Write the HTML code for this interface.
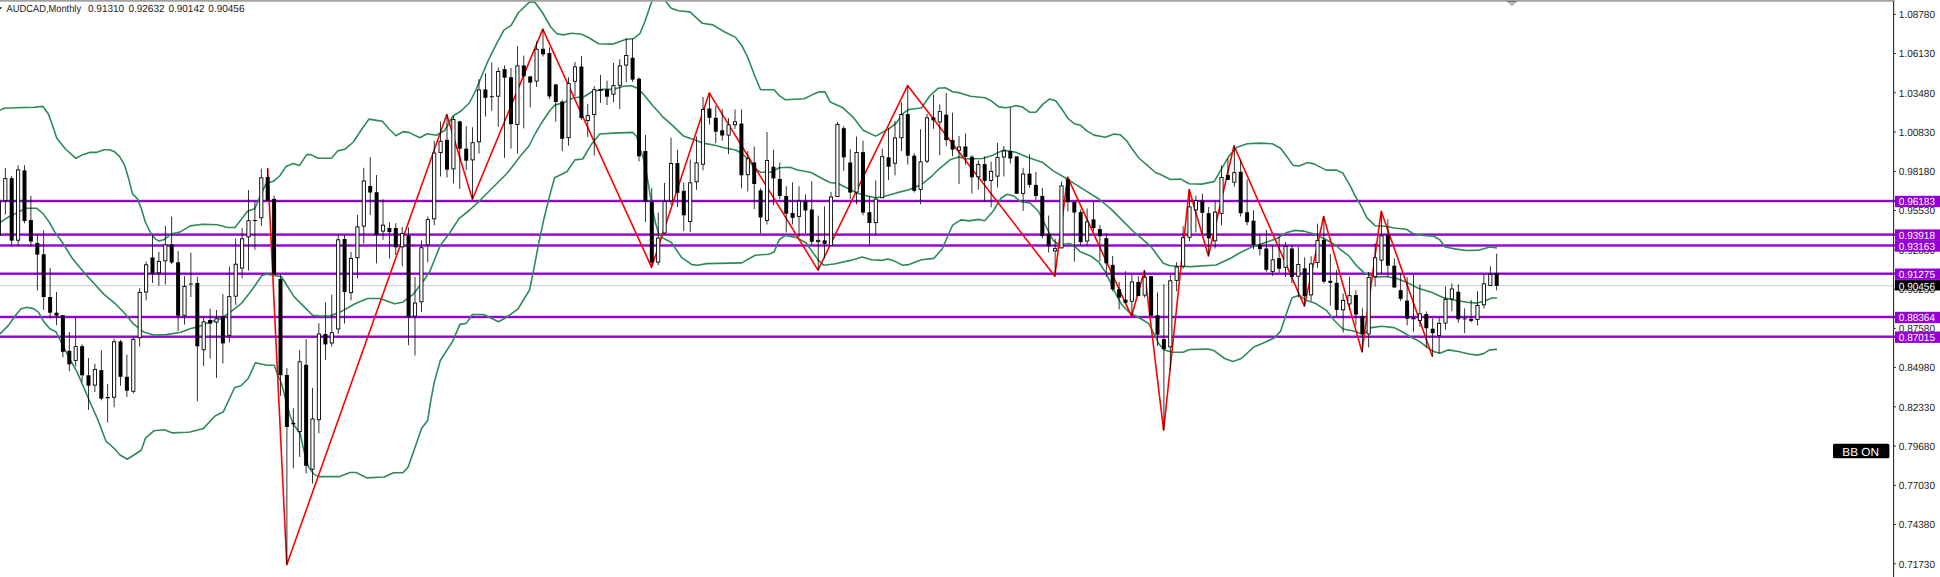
<!DOCTYPE html>
<html><head><meta charset="utf-8"><title>AUDCAD,Monthly</title>
<style>
html,body{margin:0;padding:0;background:#fff;overflow:hidden}
svg{display:block}
text{font-family:"Liberation Sans",sans-serif;text-rendering:geometricPrecision}
</style></head><body>
<svg width="1940" height="577" viewBox="0 0 1940 577">
<rect x="0" y="0" width="1940" height="577" fill="#ffffff"/>

<rect x="0" y="285.25" width="1894" height="0.9" fill="#c8c8c8"/>
<rect x="0" y="199.8" width="1895" height="2.4" fill="#9400d3"/>
<rect x="0" y="233.4" width="1895" height="2.4" fill="#9400d3"/>
<rect x="0" y="244.3" width="1895" height="2.4" fill="#9400d3"/>
<rect x="0" y="272.5" width="1895" height="2.4" fill="#9400d3"/>
<rect x="0" y="315.8" width="1895" height="2.4" fill="#9400d3"/>
<rect x="0" y="335.5" width="1895" height="2.4" fill="#9400d3"/>
<polyline points="0.0,110.3 3.9,108.2 15.6,107.7 33.8,107.2 42.9,106.4 48.1,113.4 52.0,123.8 56.7,138.1 65.0,148.5 75.9,158.3 83.2,154.4 89.7,152.4 96.2,152.4 104.0,149.8 109.1,149.8 114.3,151.6 119.5,156.3 124.7,165.4 128.6,178.4 132.5,193.9 137.7,199.1 141.6,209.5 145.5,222.5 150.7,232.9 155.9,239.4 159.1,241.0 164.3,239.4 171.6,233.8 179.9,232.1 190.3,225.9 202.8,224.2 217.3,224.8 227.7,227.5 235.0,227.5 240.2,220.7 247.5,211.3 254.7,208.8 259.9,196.8 266.2,183.3 273.5,181.2 279.7,176.0 285.9,166.6 293.2,163.5 299.4,165.6 306.7,154.6 310.9,154.6 318.2,158.3 331.4,158.2 337.7,150.9 344.9,149.3 353.3,142.0 361.6,129.5 368.9,119.1 375.1,120.1 382.4,121.2 388.6,128.5 395.9,135.7 403.2,131.6 409.4,132.6 419.8,137.8 427.1,133.7 436.4,135.3 444.7,130.5 453.0,116.0 461.4,110.8 469.7,102.5 475.9,90.0 480.0,80.0 488.3,60.3 496.6,43.7 503.9,30.1 511.2,25.4 518.5,12.5 529.9,1.7 535.1,2.5 542.4,12.5 550.7,27.0 556.9,33.7 563.2,34.9 571.5,33.3 581.9,34.3 590.2,38.5 598.5,43.7 613.1,44.1 625.5,39.5 633.8,38.5 640.1,33.3 645.2,20.8 649.4,8.3 652.0,1.0 654.0,-5.0 664.0,-5.0 666.0,1.7 671.2,8.3 678.5,10.8 689.9,11.9 702.4,23.3 712.8,24.9 725.2,32.2 735.6,37.4 741.9,45.7 748.1,58.2 754.3,74.8 760.6,89.8 774.1,89.8 779.3,95.6 785.5,99.8 804.2,98.8 812.6,94.6 818.8,91.9 825.0,91.9 830.2,101.9 842.4,107.4 852.8,116.8 863.2,130.3 875.6,136.1 888.1,129.3 896.4,123.0 902.7,113.7 908.9,109.5 921.4,108.0 929.7,96.0 938.0,88.3 945.3,87.7 952.6,91.8 960.0,92.9 970.4,96.2 985.0,97.7 991.2,100.8 998.5,106.6 1004.7,107.7 1010.9,107.0 1016.1,105.6 1022.4,107.0 1029.6,112.2 1035.9,112.2 1043.2,103.9 1049.4,99.1 1055.6,100.8 1061.9,109.1 1068.1,118.5 1074.3,123.7 1080.6,125.3 1086.8,130.9 1094.1,135.1 1105.5,137.2 1113.8,134.1 1120.1,134.7 1126.3,140.3 1132.6,149.6 1138.8,158.0 1147.1,165.2 1155.4,172.5 1160.0,174.3 1170.4,179.5 1180.8,179.1 1189.1,183.7 1201.6,184.1 1214.1,181.6 1220.3,171.2 1228.6,156.6 1236.9,147.3 1247.3,143.7 1259.8,143.1 1272.3,143.7 1280.6,148.3 1286.8,156.6 1293.1,165.4 1299.3,166.0 1307.6,162.5 1313.8,163.9 1326.3,170.1 1336.7,170.1 1343.0,173.3 1351.3,187.8 1354.6,195.0 1360.8,205.4 1367.0,217.9 1375.3,225.8 1384.7,226.2 1396.1,228.3 1406.5,229.3 1412.8,233.5 1423.2,235.5 1433.6,236.2 1439.8,239.7 1445.0,247.0 1456.4,249.1 1466.8,250.5 1479.3,250.1 1489.7,247.0 1497.0,248.0" fill="none" stroke="#2e8b57" stroke-width="1.6" stroke-linejoin="round"/>
<polyline points="0.0,222.5 7.8,217.3 18.2,212.1 26.0,208.2 36.4,208.2 42.9,213.4 49.4,222.5 54.6,231.6 62.4,242.5 72.8,259.1 83.2,271.6 93.6,283.0 104.0,294.4 114.3,302.8 124.7,313.2 133.1,323.6 143.5,331.9 153.8,335.0 166.3,334.6 180.9,332.3 190.0,328.8 198.3,326.7 208.7,322.6 221.2,318.4 231.6,311.1 242.0,302.8 252.4,289.3 261.7,275.8 266.9,274.1 281.5,276.8 294.0,296.6 303.3,305.9 312.7,315.3 318.9,315.9 330.0,316.1 342.5,310.9 355.0,303.7 367.4,298.5 379.9,298.5 394.4,303.7 402.8,302.2 413.2,294.3 423.6,280.8 429.8,271.5 440.2,245.6 449.5,233.2 458.9,218.6 469.7,210.0 478.0,202.3 486.3,194.0 498.8,181.5 507.1,173.2 515.4,162.8 520.0,156.5 528.9,146.0 535.9,132.5 541.4,123.2 549.7,110.7 554.8,105.0 563.2,102.9 573.6,97.7 584.0,96.7 592.3,91.5 602.7,89.4 613.1,89.4 623.5,86.3 631.8,85.7 638.0,88.4 644.1,95.0 652.4,105.3 662.8,116.8 673.2,126.1 683.6,136.1 694.0,139.7 704.3,143.4 714.7,145.3 725.1,148.0 735.5,150.0 741.8,153.2 748.0,159.4 754.2,167.7 760.5,172.3 770.9,172.3 779.2,167.7 790.0,167.3 797.7,170.0 811.2,172.5 821.6,178.3 829.9,182.5 838.2,183.5 846.5,187.7 856.9,192.9 867.3,196.0 875.6,197.7 884.0,196.6 896.4,192.9 908.9,189.8 921.4,184.6 931.8,176.2 938.0,169.8 950.5,159.4 958.8,156.9 967.1,159.0 982.5,158.5 992.9,155.3 1003.3,150.1 1015.7,152.2 1028.2,157.4 1042.8,162.6 1053.2,170.9 1067.7,179.3 1082.3,188.6 1098.9,199.0 1111.4,209.4 1123.8,221.9 1134.2,232.3 1140.5,237.3 1150.9,246.6 1157.1,254.9 1163.3,263.3 1170.0,265.8 1176.6,266.2 1191.2,266.6 1216.1,265.0 1230.7,258.3 1239.0,253.3 1251.5,247.1 1264.0,242.9 1276.4,238.8 1286.8,232.5 1295.1,230.4 1303.5,231.1 1315.9,234.6 1326.3,239.8 1336.7,246.0 1340.9,250.0 1348.3,255.3 1356.6,265.7 1364.9,273.6 1375.3,277.1 1385.7,276.5 1396.1,278.2 1406.5,282.3 1419.0,288.6 1431.5,292.3 1444.0,297.9 1456.4,300.5 1466.8,302.3 1477.2,303.1 1485.5,300.8 1491.8,298.0 1497.0,298.0" fill="none" stroke="#2e8b57" stroke-width="1.6" stroke-linejoin="round"/>
<polyline points="0.0,334.0 8.3,325.6 15.6,315.2 20.8,309.0 27.0,307.3 33.3,308.6 38.5,312.1 43.7,321.5 49.9,328.8 56.1,332.0 60.3,340.4 68.6,357.0 76.9,371.6 83.2,386.1 89.4,400.7 97.7,419.4 106.0,441.2 114.3,448.5 120.0,455.0 127.2,459.2 134.0,455.0 141.4,450.0 145.5,438.1 153.8,430.8 164.2,429.8 172.6,432.9 187.1,432.3 190.0,432.0 203.5,428.4 215.0,416.0 223.3,411.8 234.7,387.5 241.0,385.8 248.2,378.5 255.5,362.7 266.9,365.2 274.2,365.2 277.3,373.5 281.5,383.7 289.8,415.0 294.0,425.3 300.2,433.6 304.3,452.3 308.5,466.9 313.7,474.1 318.9,476.6 339.7,476.6 350.0,472.5 356.3,472.5 366.7,477.9 384.2,477.0 393.5,472.7 402.9,472.7 408.1,467.1 414.3,449.4 421.6,428.6 427.8,420.3 429.9,405.7 434.1,382.9 440.2,360.8 452.7,341.1 459.9,324.4 466.2,323.4 472.4,314.5 483.8,314.5 498.4,321.7 506.7,317.2 518.1,308.9 523.4,300.0 529.6,290.0 534.3,266.6 539.0,241.7 543.7,219.8 549.9,194.9 554.6,177.7 567.1,171.5 574.9,159.9 582.7,159.0 592.0,143.4 599.8,134.0 613.9,133.1 632.6,132.4 636.8,136.5 640.0,148.7 643.1,157.0 646.2,171.6 649.4,190.3 652.5,209.0 655.6,223.6 658.7,233.5 662.9,238.1 671.2,242.3 681.5,257.3 691.9,264.6 698.1,265.2 706.4,263.6 741.8,262.9 755.3,255.2 768.8,254.2 774.0,252.1 779.2,239.6 785.4,235.5 796.6,237.6 806.0,242.8 813.3,253.2 818.5,260.4 823.7,265.2 834.0,264.0 850.7,260.4 862.1,256.9 871.5,259.8 881.9,260.4 888.1,259.0 894.3,261.1 902.7,265.2 908.9,264.6 921.4,259.8 933.8,258.4 942.2,249.0 948.4,234.5 952.6,225.1 960.9,219.9 969.2,220.9 978.3,219.4 984.6,220.8 992.9,211.5 1001.2,198.0 1007.4,194.2 1013.7,195.9 1019.9,201.1 1030.3,203.2 1038.6,211.5 1044.8,224.0 1050.0,234.3 1053.2,240.4 1059.4,245.0 1069.8,243.5 1074.0,245.6 1080.2,251.8 1090.6,256.0 1098.9,262.2 1105.1,271.6 1111.4,284.1 1115.5,293.4 1121.8,304.8 1130.1,313.2 1136.3,316.3 1142.6,319.7 1148.8,323.6 1153.0,331.9 1159.3,344.5 1164.4,350.0 1172.8,352.2 1183.2,352.2 1189.4,349.5 1208.1,349.1 1214.3,350.8 1224.7,358.5 1233.0,361.6 1241.4,358.5 1253.8,347.0 1266.3,341.8 1274.6,337.7 1280.6,331.1 1286.8,312.4 1292.0,297.8 1299.3,295.3 1305.5,299.9 1315.9,303.6 1326.3,310.3 1334.6,320.7 1343.0,329.0 1351.3,330.5 1356.6,331.8 1362.9,334.9 1371.2,327.6 1381.6,326.2 1394.1,327.6 1402.4,331.8 1410.7,337.0 1419.0,341.1 1427.3,347.4 1433.6,351.5 1439.8,353.2 1448.1,349.9 1458.5,351.5 1468.9,354.0 1477.2,355.1 1483.5,353.6 1489.7,349.9 1497.0,349.4" fill="none" stroke="#2e8b57" stroke-width="1.6" stroke-linejoin="round"/>
<polyline points="267.6,168.3 286.8,564.7 446.8,114.5 472.4,199.2 542.8,29.1 651.6,267.3 709.2,92.9 818.0,270.2 907.6,85.6 1054.8,276.2 1067.6,177.2 1131.6,316.3 1144.4,270.5 1163.6,430.2 1189.2,189.5 1208.4,256.0 1234.0,145.8 1304.4,306.1 1323.6,216.5 1362.0,351.9 1381.2,211.2 1432.4,356.7" fill="none" stroke="#ff0000" stroke-width="1.6" stroke-linejoin="round"/>
<g><rect x="-1.5" y="201.0" width="0.8" height="35.0" fill="#000"/><rect x="-3.1" y="201.0" width="4" height="35.0" fill="#000"/><rect x="4.9" y="168.0" width="0.8" height="46.5" fill="#000"/><rect x="3.7" y="178.6" width="3.2" height="22.0" fill="#fff" stroke="#000" stroke-width="0.9"/><rect x="11.3" y="176.0" width="0.8" height="70.0" fill="#000"/><rect x="9.7" y="178.2" width="4" height="62.4" fill="#000"/><rect x="17.7" y="165.2" width="0.8" height="80.8" fill="#000"/><rect x="16.5" y="169.9" width="3.2" height="70.3" fill="#fff" stroke="#000" stroke-width="0.9"/><rect x="24.1" y="165.2" width="0.8" height="58.1" fill="#000"/><rect x="22.5" y="170.4" width="4" height="50.6" fill="#000"/><rect x="30.5" y="195.9" width="0.8" height="50.6" fill="#000"/><rect x="28.9" y="220.1" width="4" height="21.4" fill="#000"/><rect x="36.9" y="235.0" width="0.8" height="55.5" fill="#000"/><rect x="35.3" y="243.0" width="4" height="11.6" fill="#000"/><rect x="43.3" y="230.4" width="0.8" height="79.6" fill="#000"/><rect x="41.7" y="254.3" width="4" height="42.7" fill="#000"/><rect x="49.7" y="268.0" width="0.8" height="50.4" fill="#000"/><rect x="48.1" y="297.0" width="4" height="15.7" fill="#000"/><rect x="56.1" y="292.0" width="0.8" height="33.2" fill="#000"/><rect x="54.5" y="312.7" width="4" height="2.9" fill="#000"/><rect x="62.5" y="315.2" width="0.8" height="42.2" fill="#000"/><rect x="60.9" y="315.2" width="4" height="36.6" fill="#000"/><rect x="68.9" y="332.0" width="0.8" height="39.2" fill="#000"/><rect x="67.3" y="350.8" width="4" height="13.5" fill="#000"/><rect x="75.3" y="317.3" width="0.8" height="49.1" fill="#000"/><rect x="74.1" y="346.6" width="3.2" height="13.8" fill="#fff" stroke="#000" stroke-width="0.9"/><rect x="81.7" y="344.4" width="0.8" height="37.2" fill="#000"/><rect x="80.1" y="346.2" width="4" height="29.1" fill="#000"/><rect x="88.1" y="358.0" width="0.8" height="52.0" fill="#000"/><rect x="86.5" y="375.3" width="4" height="10.4" fill="#000"/><rect x="94.5" y="363.7" width="0.8" height="28.3" fill="#000"/><rect x="93.3" y="369.4" width="3.2" height="15.7" fill="#fff" stroke="#000" stroke-width="0.9"/><rect x="100.9" y="350.2" width="0.8" height="50.1" fill="#000"/><rect x="99.3" y="370.1" width="4" height="28.5" fill="#000"/><rect x="107.3" y="384.0" width="0.8" height="38.5" fill="#000"/><rect x="106.1" y="397.4" width="3.2" height="0.4" fill="#fff" stroke="#000" stroke-width="0.9"/><rect x="113.7" y="338.6" width="0.8" height="68.7" fill="#000"/><rect x="112.5" y="341.8" width="3.2" height="55.4" fill="#fff" stroke="#000" stroke-width="0.9"/><rect x="120.1" y="340.0" width="0.8" height="45.7" fill="#000"/><rect x="118.5" y="341.5" width="4" height="35.3" fill="#000"/><rect x="126.5" y="354.5" width="0.8" height="42.5" fill="#000"/><rect x="124.9" y="376.8" width="4" height="13.9" fill="#000"/><rect x="132.9" y="336.4" width="0.8" height="57.0" fill="#000"/><rect x="131.7" y="339.3" width="3.2" height="52.0" fill="#fff" stroke="#000" stroke-width="0.9"/><rect x="139.3" y="288.2" width="0.8" height="58.3" fill="#000"/><rect x="138.1" y="292.4" width="3.2" height="45.4" fill="#fff" stroke="#000" stroke-width="0.9"/><rect x="145.7" y="261.6" width="0.8" height="38.7" fill="#000"/><rect x="144.5" y="264.8" width="3.2" height="27.2" fill="#fff" stroke="#000" stroke-width="0.9"/><rect x="152.1" y="234.7" width="0.8" height="48.3" fill="#000"/><rect x="150.5" y="257.5" width="4" height="16.2" fill="#000"/><rect x="158.5" y="251.8" width="0.8" height="33.9" fill="#000"/><rect x="157.3" y="261.4" width="3.2" height="11.4" fill="#fff" stroke="#000" stroke-width="0.9"/><rect x="164.9" y="225.9" width="0.8" height="58.6" fill="#000"/><rect x="163.7" y="244.8" width="3.2" height="16.0" fill="#fff" stroke="#000" stroke-width="0.9"/><rect x="171.3" y="216.5" width="0.8" height="47.7" fill="#000"/><rect x="169.7" y="244.4" width="4" height="18.1" fill="#000"/><rect x="177.7" y="251.0" width="0.8" height="79.8" fill="#000"/><rect x="176.1" y="262.3" width="4" height="53.4" fill="#000"/><rect x="184.1" y="276.2" width="0.8" height="48.4" fill="#000"/><rect x="182.9" y="286.5" width="3.2" height="28.8" fill="#fff" stroke="#000" stroke-width="0.9"/><rect x="190.5" y="252.7" width="0.8" height="44.3" fill="#000"/><rect x="188.9" y="283.6" width="4" height="0.9" fill="#000"/><rect x="196.9" y="276.8" width="0.8" height="124.4" fill="#000"/><rect x="195.3" y="283.0" width="4" height="63.3" fill="#000"/><rect x="203.3" y="316.3" width="0.8" height="49.9" fill="#000"/><rect x="202.1" y="321.9" width="3.2" height="27.9" fill="#fff" stroke="#000" stroke-width="0.9"/><rect x="209.7" y="308.6" width="0.8" height="49.9" fill="#000"/><rect x="208.1" y="320.0" width="4" height="3.6" fill="#000"/><rect x="216.1" y="310.0" width="0.8" height="67.9" fill="#000"/><rect x="214.9" y="318.8" width="3.2" height="3.4" fill="#fff" stroke="#000" stroke-width="0.9"/><rect x="222.5" y="294.0" width="0.8" height="69.5" fill="#000"/><rect x="220.9" y="316.3" width="4" height="27.1" fill="#000"/><rect x="228.9" y="266.5" width="0.8" height="75.8" fill="#000"/><rect x="227.7" y="296.6" width="3.2" height="38.7" fill="#fff" stroke="#000" stroke-width="0.9"/><rect x="235.3" y="238.4" width="0.8" height="66.5" fill="#000"/><rect x="234.1" y="264.2" width="3.2" height="32.0" fill="#fff" stroke="#000" stroke-width="0.9"/><rect x="241.7" y="228.0" width="0.8" height="50.3" fill="#000"/><rect x="240.5" y="238.8" width="3.2" height="29.3" fill="#fff" stroke="#000" stroke-width="0.9"/><rect x="248.1" y="190.1" width="0.8" height="80.5" fill="#000"/><rect x="246.9" y="220.7" width="3.2" height="16.2" fill="#fff" stroke="#000" stroke-width="0.9"/><rect x="254.5" y="202.0" width="0.8" height="47.8" fill="#000"/><rect x="252.9" y="220.0" width="4" height="1.0" fill="#000"/><rect x="260.9" y="168.7" width="0.8" height="57.2" fill="#000"/><rect x="259.7" y="177.8" width="3.2" height="40.0" fill="#fff" stroke="#000" stroke-width="0.9"/><rect x="267.3" y="168.3" width="0.8" height="32.7" fill="#000"/><rect x="265.7" y="177.0" width="4" height="24.0" fill="#000"/><rect x="273.7" y="195.7" width="0.8" height="78.8" fill="#000"/><rect x="272.1" y="198.9" width="4" height="75.6" fill="#000"/><rect x="280.1" y="274.1" width="0.8" height="121.7" fill="#000"/><rect x="278.5" y="278.9" width="4" height="96.3" fill="#000"/><rect x="286.5" y="368.1" width="0.8" height="196.6" fill="#000"/><rect x="284.9" y="375.0" width="4" height="52.0" fill="#000"/><rect x="292.9" y="408.2" width="0.8" height="60.1" fill="#000"/><rect x="291.3" y="422.8" width="4" height="1.5" fill="#000"/><rect x="299.3" y="350.2" width="0.8" height="106.7" fill="#000"/><rect x="298.1" y="361.8" width="3.2" height="69.8" fill="#fff" stroke="#000" stroke-width="0.9"/><rect x="305.7" y="339.2" width="0.8" height="134.3" fill="#000"/><rect x="304.1" y="364.8" width="4" height="101.0" fill="#000"/><rect x="312.1" y="387.9" width="0.8" height="95.6" fill="#000"/><rect x="310.9" y="419.0" width="3.2" height="50.2" fill="#fff" stroke="#000" stroke-width="0.9"/><rect x="318.5" y="323.2" width="0.8" height="110.0" fill="#000"/><rect x="317.3" y="334.0" width="3.2" height="85.7" fill="#fff" stroke="#000" stroke-width="0.9"/><rect x="325.0" y="302.4" width="0.8" height="57.6" fill="#000"/><rect x="323.4" y="334.0" width="4" height="10.4" fill="#000"/><rect x="331.4" y="294.5" width="0.8" height="52.0" fill="#000"/><rect x="330.2" y="332.7" width="3.2" height="10.3" fill="#fff" stroke="#000" stroke-width="0.9"/><rect x="337.8" y="234.2" width="0.8" height="99.4" fill="#000"/><rect x="336.6" y="239.8" width="3.2" height="89.2" fill="#fff" stroke="#000" stroke-width="0.9"/><rect x="344.2" y="235.2" width="0.8" height="88.4" fill="#000"/><rect x="342.6" y="239.0" width="4" height="53.0" fill="#000"/><rect x="350.6" y="251.9" width="0.8" height="48.4" fill="#000"/><rect x="349.4" y="258.5" width="3.2" height="34.1" fill="#fff" stroke="#000" stroke-width="0.9"/><rect x="357.0" y="214.9" width="0.8" height="63.4" fill="#000"/><rect x="355.8" y="226.9" width="3.2" height="30.8" fill="#fff" stroke="#000" stroke-width="0.9"/><rect x="363.4" y="167.8" width="0.8" height="75.8" fill="#000"/><rect x="362.2" y="181.0" width="3.2" height="45.1" fill="#fff" stroke="#000" stroke-width="0.9"/><rect x="369.8" y="157.4" width="0.8" height="57.5" fill="#000"/><rect x="368.2" y="186.0" width="4" height="6.5" fill="#000"/><rect x="376.2" y="175.0" width="0.8" height="88.4" fill="#000"/><rect x="374.6" y="192.2" width="4" height="43.0" fill="#000"/><rect x="382.6" y="199.3" width="0.8" height="40.5" fill="#000"/><rect x="381.4" y="225.2" width="3.2" height="5.9" fill="#fff" stroke="#000" stroke-width="0.9"/><rect x="389.0" y="222.3" width="0.8" height="36.2" fill="#000"/><rect x="387.4" y="228.0" width="4" height="4.1" fill="#000"/><rect x="395.4" y="223.2" width="0.8" height="31.8" fill="#000"/><rect x="393.8" y="228.0" width="4" height="19.3" fill="#000"/><rect x="401.8" y="226.9" width="0.8" height="39.5" fill="#000"/><rect x="400.6" y="233.6" width="3.2" height="13.3" fill="#fff" stroke="#000" stroke-width="0.9"/><rect x="408.2" y="227.3" width="0.8" height="117.9" fill="#000"/><rect x="406.6" y="235.7" width="4" height="81.5" fill="#000"/><rect x="414.6" y="277.0" width="0.8" height="78.6" fill="#000"/><rect x="413.4" y="303.0" width="3.2" height="13.1" fill="#fff" stroke="#000" stroke-width="0.9"/><rect x="421.0" y="240.4" width="0.8" height="71.6" fill="#000"/><rect x="419.8" y="247.7" width="3.2" height="54.1" fill="#fff" stroke="#000" stroke-width="0.9"/><rect x="427.4" y="216.5" width="0.8" height="45.8" fill="#000"/><rect x="426.2" y="219.6" width="3.2" height="25.2" fill="#fff" stroke="#000" stroke-width="0.9"/><rect x="433.8" y="141.0" width="0.8" height="84.3" fill="#000"/><rect x="432.6" y="153.1" width="3.2" height="65.7" fill="#fff" stroke="#000" stroke-width="0.9"/><rect x="440.2" y="121.5" width="0.8" height="55.0" fill="#000"/><rect x="439.0" y="141.2" width="3.2" height="11.4" fill="#fff" stroke="#000" stroke-width="0.9"/><rect x="446.6" y="114.5" width="0.8" height="63.1" fill="#000"/><rect x="445.0" y="139.8" width="4" height="29.9" fill="#000"/><rect x="453.0" y="116.0" width="0.8" height="67.4" fill="#000"/><rect x="451.8" y="119.4" width="3.2" height="49.5" fill="#fff" stroke="#000" stroke-width="0.9"/><rect x="459.4" y="120.7" width="0.8" height="68.3" fill="#000"/><rect x="457.8" y="121.4" width="4" height="27.3" fill="#000"/><rect x="465.8" y="126.3" width="0.8" height="43.7" fill="#000"/><rect x="464.2" y="148.7" width="4" height="12.0" fill="#000"/><rect x="472.2" y="127.3" width="0.8" height="71.7" fill="#000"/><rect x="471.0" y="142.7" width="3.2" height="17.2" fill="#fff" stroke="#000" stroke-width="0.9"/><rect x="478.6" y="79.1" width="0.8" height="74.6" fill="#000"/><rect x="477.4" y="89.9" width="3.2" height="51.9" fill="#fff" stroke="#000" stroke-width="0.9"/><rect x="485.0" y="73.3" width="0.8" height="43.2" fill="#000"/><rect x="483.4" y="89.5" width="4" height="8.3" fill="#000"/><rect x="491.4" y="62.4" width="0.8" height="48.3" fill="#000"/><rect x="489.8" y="96.2" width="4" height="1.0" fill="#000"/><rect x="497.8" y="67.5" width="0.8" height="59.3" fill="#000"/><rect x="496.6" y="71.5" width="3.2" height="24.7" fill="#fff" stroke="#000" stroke-width="0.9"/><rect x="504.2" y="65.4" width="0.8" height="92.4" fill="#000"/><rect x="502.6" y="69.1" width="4" height="8.6" fill="#000"/><rect x="510.6" y="68.0" width="0.8" height="80.6" fill="#000"/><rect x="509.0" y="77.3" width="4" height="46.9" fill="#000"/><rect x="517.0" y="46.2" width="0.8" height="107.2" fill="#000"/><rect x="515.8" y="65.9" width="3.2" height="58.5" fill="#fff" stroke="#000" stroke-width="0.9"/><rect x="523.4" y="55.6" width="0.8" height="72.8" fill="#000"/><rect x="521.8" y="65.5" width="4" height="10.9" fill="#000"/><rect x="529.8" y="76.4" width="0.8" height="31.1" fill="#000"/><rect x="528.2" y="76.4" width="4" height="6.2" fill="#000"/><rect x="536.2" y="41.6" width="0.8" height="45.2" fill="#000"/><rect x="535.0" y="49.2" width="3.2" height="31.9" fill="#fff" stroke="#000" stroke-width="0.9"/><rect x="542.6" y="29.1" width="0.8" height="27.4" fill="#000"/><rect x="541.0" y="48.8" width="4" height="5.5" fill="#000"/><rect x="549.0" y="47.3" width="0.8" height="51.7" fill="#000"/><rect x="547.4" y="53.0" width="4" height="43.4" fill="#000"/><rect x="555.4" y="83.7" width="0.8" height="38.0" fill="#000"/><rect x="553.8" y="84.5" width="4" height="17.5" fill="#000"/><rect x="561.8" y="99.8" width="0.8" height="51.4" fill="#000"/><rect x="560.2" y="101.6" width="4" height="37.2" fill="#000"/><rect x="568.2" y="77.3" width="0.8" height="68.3" fill="#000"/><rect x="567.0" y="83.6" width="3.2" height="54.1" fill="#fff" stroke="#000" stroke-width="0.9"/><rect x="574.6" y="62.0" width="0.8" height="34.0" fill="#000"/><rect x="573.4" y="66.9" width="3.2" height="14.4" fill="#fff" stroke="#000" stroke-width="0.9"/><rect x="581.0" y="56.0" width="0.8" height="64.0" fill="#000"/><rect x="579.4" y="66.5" width="4" height="51.5" fill="#000"/><rect x="587.4" y="104.0" width="0.8" height="33.1" fill="#000"/><rect x="586.2" y="115.6" width="3.2" height="5.0" fill="#fff" stroke="#000" stroke-width="0.9"/><rect x="593.8" y="86.2" width="0.8" height="69.3" fill="#000"/><rect x="592.6" y="89.7" width="3.2" height="24.9" fill="#fff" stroke="#000" stroke-width="0.9"/><rect x="600.2" y="74.8" width="0.8" height="28.1" fill="#000"/><rect x="598.6" y="89.0" width="4" height="1.9" fill="#000"/><rect x="606.6" y="80.7" width="0.8" height="24.3" fill="#000"/><rect x="605.0" y="89.4" width="4" height="7.3" fill="#000"/><rect x="613.0" y="63.0" width="0.8" height="39.3" fill="#000"/><rect x="611.8" y="85.6" width="3.2" height="8.6" fill="#fff" stroke="#000" stroke-width="0.9"/><rect x="619.4" y="59.3" width="0.8" height="49.8" fill="#000"/><rect x="618.2" y="65.9" width="3.2" height="19.4" fill="#fff" stroke="#000" stroke-width="0.9"/><rect x="625.8" y="38.0" width="0.8" height="44.1" fill="#000"/><rect x="624.6" y="55.5" width="3.2" height="9.6" fill="#fff" stroke="#000" stroke-width="0.9"/><rect x="632.2" y="38.5" width="0.8" height="43.2" fill="#000"/><rect x="630.6" y="57.8" width="4" height="21.8" fill="#000"/><rect x="638.6" y="77.3" width="0.8" height="84.2" fill="#000"/><rect x="637.0" y="78.8" width="4" height="77.5" fill="#000"/><rect x="645.0" y="135.0" width="0.8" height="87.0" fill="#000"/><rect x="643.4" y="151.0" width="4" height="50.6" fill="#000"/><rect x="651.4" y="187.7" width="0.8" height="79.6" fill="#000"/><rect x="649.8" y="201.6" width="4" height="60.9" fill="#000"/><rect x="657.8" y="212.6" width="0.8" height="52.6" fill="#000"/><rect x="656.6" y="238.0" width="3.2" height="24.1" fill="#fff" stroke="#000" stroke-width="0.9"/><rect x="664.2" y="182.9" width="0.8" height="51.1" fill="#000"/><rect x="663.0" y="201.6" width="3.2" height="31.4" fill="#fff" stroke="#000" stroke-width="0.9"/><rect x="670.6" y="137.6" width="0.8" height="67.4" fill="#000"/><rect x="669.4" y="163.5" width="3.2" height="37.3" fill="#fff" stroke="#000" stroke-width="0.9"/><rect x="677.0" y="149.6" width="0.8" height="57.4" fill="#000"/><rect x="675.4" y="163.1" width="4" height="29.8" fill="#000"/><rect x="683.4" y="182.5" width="0.8" height="48.4" fill="#000"/><rect x="681.8" y="190.8" width="4" height="24.5" fill="#000"/><rect x="689.8" y="159.4" width="0.8" height="72.6" fill="#000"/><rect x="688.6" y="182.8" width="3.2" height="38.8" fill="#fff" stroke="#000" stroke-width="0.9"/><rect x="696.2" y="136.5" width="0.8" height="53.3" fill="#000"/><rect x="695.0" y="162.9" width="3.2" height="18.9" fill="#fff" stroke="#000" stroke-width="0.9"/><rect x="702.6" y="97.0" width="0.8" height="73.4" fill="#000"/><rect x="701.4" y="109.5" width="3.2" height="54.7" fill="#fff" stroke="#000" stroke-width="0.9"/><rect x="709.0" y="92.9" width="0.8" height="31.6" fill="#000"/><rect x="707.4" y="108.5" width="4" height="9.3" fill="#000"/><rect x="715.4" y="105.8" width="0.8" height="37.4" fill="#000"/><rect x="713.8" y="117.8" width="4" height="13.9" fill="#000"/><rect x="721.8" y="109.1" width="0.8" height="31.6" fill="#000"/><rect x="720.2" y="130.3" width="4" height="5.2" fill="#000"/><rect x="728.2" y="118.2" width="0.8" height="36.0" fill="#000"/><rect x="727.0" y="124.9" width="3.2" height="10.2" fill="#fff" stroke="#000" stroke-width="0.9"/><rect x="734.6" y="109.5" width="0.8" height="19.3" fill="#000"/><rect x="733.4" y="121.8" width="3.2" height="2.9" fill="#fff" stroke="#000" stroke-width="0.9"/><rect x="741.0" y="109.5" width="0.8" height="78.9" fill="#000"/><rect x="739.4" y="123.6" width="4" height="51.7" fill="#000"/><rect x="747.4" y="151.1" width="0.8" height="40.3" fill="#000"/><rect x="746.2" y="158.8" width="3.2" height="15.9" fill="#fff" stroke="#000" stroke-width="0.9"/><rect x="753.8" y="146.5" width="0.8" height="62.6" fill="#000"/><rect x="752.2" y="162.5" width="4" height="21.5" fill="#000"/><rect x="760.2" y="188.3" width="0.8" height="45.1" fill="#000"/><rect x="758.6" y="190.4" width="4" height="27.0" fill="#000"/><rect x="766.6" y="132.0" width="0.8" height="92.5" fill="#000"/><rect x="765.4" y="160.4" width="3.2" height="60.1" fill="#fff" stroke="#000" stroke-width="0.9"/><rect x="773.0" y="149.6" width="0.8" height="55.7" fill="#000"/><rect x="771.4" y="166.7" width="4" height="11.7" fill="#000"/><rect x="779.4" y="162.5" width="0.8" height="36.6" fill="#000"/><rect x="777.8" y="178.9" width="4" height="17.1" fill="#000"/><rect x="785.8" y="186.3" width="0.8" height="46.1" fill="#000"/><rect x="784.2" y="196.0" width="4" height="17.7" fill="#000"/><rect x="792.2" y="182.4" width="0.8" height="42.1" fill="#000"/><rect x="790.6" y="213.0" width="4" height="4.8" fill="#000"/><rect x="798.6" y="186.3" width="0.8" height="50.7" fill="#000"/><rect x="797.4" y="201.2" width="3.2" height="15.2" fill="#fff" stroke="#000" stroke-width="0.9"/><rect x="805.0" y="194.5" width="0.8" height="38.9" fill="#000"/><rect x="803.4" y="200.8" width="4" height="9.7" fill="#000"/><rect x="811.4" y="181.3" width="0.8" height="63.5" fill="#000"/><rect x="809.8" y="209.5" width="4" height="32.2" fill="#000"/><rect x="817.8" y="215.7" width="0.8" height="54.3" fill="#000"/><rect x="816.6" y="240.4" width="3.2" height="1.3" fill="#fff" stroke="#000" stroke-width="0.9"/><rect x="824.2" y="206.4" width="0.8" height="52.0" fill="#000"/><rect x="822.6" y="240.3" width="4" height="3.5" fill="#000"/><rect x="830.6" y="191.8" width="0.8" height="54.2" fill="#000"/><rect x="829.4" y="197.0" width="3.2" height="48.5" fill="#fff" stroke="#000" stroke-width="0.9"/><rect x="837.0" y="122.0" width="0.8" height="75.0" fill="#000"/><rect x="835.8" y="124.4" width="3.2" height="72.2" fill="#fff" stroke="#000" stroke-width="0.9"/><rect x="843.4" y="126.1" width="0.8" height="44.7" fill="#000"/><rect x="841.8" y="128.2" width="4" height="29.1" fill="#000"/><rect x="849.8" y="149.4" width="0.8" height="49.7" fill="#000"/><rect x="848.2" y="162.5" width="4" height="30.0" fill="#000"/><rect x="856.2" y="136.5" width="0.8" height="67.8" fill="#000"/><rect x="855.0" y="152.5" width="3.2" height="39.6" fill="#fff" stroke="#000" stroke-width="0.9"/><rect x="862.6" y="140.7" width="0.8" height="74.6" fill="#000"/><rect x="861.0" y="152.1" width="4" height="60.5" fill="#000"/><rect x="869.0" y="196.0" width="0.8" height="48.8" fill="#000"/><rect x="867.4" y="212.2" width="4" height="10.8" fill="#000"/><rect x="875.4" y="180.3" width="0.8" height="55.2" fill="#000"/><rect x="874.2" y="199.1" width="3.2" height="23.5" fill="#fff" stroke="#000" stroke-width="0.9"/><rect x="881.8" y="148.6" width="0.8" height="49.5" fill="#000"/><rect x="880.6" y="156.7" width="3.2" height="41.0" fill="#fff" stroke="#000" stroke-width="0.9"/><rect x="888.2" y="128.2" width="0.8" height="51.9" fill="#000"/><rect x="886.6" y="157.3" width="4" height="9.4" fill="#000"/><rect x="894.6" y="120.9" width="0.8" height="54.4" fill="#000"/><rect x="893.4" y="138.0" width="3.2" height="25.2" fill="#fff" stroke="#000" stroke-width="0.9"/><rect x="901.0" y="102.2" width="0.8" height="48.9" fill="#000"/><rect x="899.8" y="114.5" width="3.2" height="23.3" fill="#fff" stroke="#000" stroke-width="0.9"/><rect x="907.4" y="85.6" width="0.8" height="79.0" fill="#000"/><rect x="905.8" y="114.1" width="4" height="41.6" fill="#000"/><rect x="913.8" y="153.2" width="0.8" height="39.3" fill="#000"/><rect x="912.2" y="155.7" width="4" height="35.1" fill="#000"/><rect x="920.2" y="129.3" width="0.8" height="75.0" fill="#000"/><rect x="919.0" y="161.9" width="3.2" height="27.5" fill="#fff" stroke="#000" stroke-width="0.9"/><rect x="926.6" y="113.7" width="0.8" height="49.4" fill="#000"/><rect x="925.4" y="117.8" width="3.2" height="43.3" fill="#fff" stroke="#000" stroke-width="0.9"/><rect x="933.0" y="94.9" width="0.8" height="33.9" fill="#000"/><rect x="931.4" y="117.4" width="4" height="2.9" fill="#000"/><rect x="939.4" y="104.3" width="0.8" height="50.9" fill="#000"/><rect x="938.2" y="111.6" width="3.2" height="10.4" fill="#fff" stroke="#000" stroke-width="0.9"/><rect x="945.8" y="92.9" width="0.8" height="53.0" fill="#000"/><rect x="944.2" y="114.7" width="4" height="25.4" fill="#000"/><rect x="952.2" y="112.6" width="0.8" height="43.7" fill="#000"/><rect x="950.6" y="140.1" width="4" height="9.5" fill="#000"/><rect x="958.6" y="135.9" width="0.8" height="48.1" fill="#000"/><rect x="957.4" y="146.9" width="3.2" height="3.4" fill="#fff" stroke="#000" stroke-width="0.9"/><rect x="965.0" y="133.4" width="0.8" height="31.2" fill="#000"/><rect x="963.4" y="146.5" width="4" height="10.4" fill="#000"/><rect x="971.5" y="155.2" width="0.8" height="38.3" fill="#000"/><rect x="969.9" y="156.7" width="4" height="20.6" fill="#000"/><rect x="977.9" y="160.4" width="0.8" height="29.3" fill="#000"/><rect x="976.7" y="164.4" width="3.2" height="12.4" fill="#fff" stroke="#000" stroke-width="0.9"/><rect x="984.3" y="156.4" width="0.8" height="45.3" fill="#000"/><rect x="982.7" y="164.1" width="4" height="16.8" fill="#000"/><rect x="990.7" y="161.6" width="0.8" height="45.7" fill="#000"/><rect x="989.5" y="171.3" width="3.2" height="9.2" fill="#fff" stroke="#000" stroke-width="0.9"/><rect x="997.1" y="142.9" width="0.8" height="44.7" fill="#000"/><rect x="995.9" y="157.4" width="3.2" height="18.7" fill="#fff" stroke="#000" stroke-width="0.9"/><rect x="1003.5" y="146.0" width="0.8" height="30.5" fill="#000"/><rect x="1002.3" y="151.0" width="3.2" height="6.0" fill="#fff" stroke="#000" stroke-width="0.9"/><rect x="1009.9" y="107.4" width="0.8" height="56.1" fill="#000"/><rect x="1008.3" y="151.0" width="4" height="7.5" fill="#000"/><rect x="1016.3" y="156.4" width="0.8" height="37.4" fill="#000"/><rect x="1014.7" y="156.4" width="4" height="37.4" fill="#000"/><rect x="1022.7" y="167.8" width="0.8" height="43.1" fill="#000"/><rect x="1021.5" y="174.0" width="3.2" height="19.4" fill="#fff" stroke="#000" stroke-width="0.9"/><rect x="1029.1" y="154.3" width="0.8" height="33.3" fill="#000"/><rect x="1027.5" y="173.6" width="4" height="11.3" fill="#000"/><rect x="1035.5" y="172.0" width="0.8" height="28.0" fill="#000"/><rect x="1033.9" y="184.9" width="4" height="11.0" fill="#000"/><rect x="1041.9" y="188.0" width="0.8" height="50.4" fill="#000"/><rect x="1040.3" y="195.9" width="4" height="40.2" fill="#000"/><rect x="1048.3" y="215.6" width="0.8" height="36.9" fill="#000"/><rect x="1046.7" y="233.9" width="4" height="12.3" fill="#000"/><rect x="1054.7" y="238.7" width="0.8" height="37.5" fill="#000"/><rect x="1053.5" y="248.7" width="3.2" height="2.3" fill="#fff" stroke="#000" stroke-width="0.9"/><rect x="1061.1" y="181.3" width="0.8" height="67.0" fill="#000"/><rect x="1059.9" y="185.9" width="3.2" height="62.0" fill="#fff" stroke="#000" stroke-width="0.9"/><rect x="1067.5" y="177.2" width="0.8" height="34.3" fill="#000"/><rect x="1065.9" y="179.3" width="4" height="22.8" fill="#000"/><rect x="1073.9" y="202.1" width="0.8" height="59.5" fill="#000"/><rect x="1072.3" y="202.1" width="4" height="10.4" fill="#000"/><rect x="1080.3" y="209.4" width="0.8" height="36.2" fill="#000"/><rect x="1078.7" y="212.1" width="4" height="30.0" fill="#000"/><rect x="1086.7" y="208.4" width="0.8" height="37.2" fill="#000"/><rect x="1085.5" y="221.9" width="3.2" height="19.1" fill="#fff" stroke="#000" stroke-width="0.9"/><rect x="1093.1" y="201.1" width="0.8" height="30.1" fill="#000"/><rect x="1091.5" y="219.4" width="4" height="8.7" fill="#000"/><rect x="1099.5" y="225.0" width="0.8" height="36.2" fill="#000"/><rect x="1097.9" y="229.1" width="4" height="7.1" fill="#000"/><rect x="1105.9" y="233.5" width="0.8" height="43.3" fill="#000"/><rect x="1104.3" y="238.2" width="4" height="25.1" fill="#000"/><rect x="1112.3" y="256.0" width="0.8" height="35.3" fill="#000"/><rect x="1110.7" y="264.9" width="4" height="24.4" fill="#000"/><rect x="1118.7" y="282.0" width="0.8" height="27.4" fill="#000"/><rect x="1117.1" y="289.3" width="4" height="8.3" fill="#000"/><rect x="1125.1" y="271.2" width="0.8" height="32.6" fill="#000"/><rect x="1123.5" y="299.6" width="4" height="3.2" fill="#000"/><rect x="1131.5" y="274.7" width="0.8" height="41.6" fill="#000"/><rect x="1130.3" y="282.0" width="3.2" height="19.3" fill="#fff" stroke="#000" stroke-width="0.9"/><rect x="1137.9" y="276.2" width="0.8" height="19.9" fill="#000"/><rect x="1136.3" y="282.0" width="4" height="14.1" fill="#000"/><rect x="1144.3" y="270.5" width="0.8" height="27.1" fill="#000"/><rect x="1143.1" y="277.2" width="3.2" height="17.9" fill="#fff" stroke="#000" stroke-width="0.9"/><rect x="1150.7" y="276.2" width="0.8" height="39.5" fill="#000"/><rect x="1149.1" y="276.2" width="4" height="39.5" fill="#000"/><rect x="1157.1" y="292.4" width="0.8" height="53.6" fill="#000"/><rect x="1155.5" y="315.2" width="4" height="19.4" fill="#000"/><rect x="1163.5" y="284.2" width="0.8" height="146.0" fill="#000"/><rect x="1161.9" y="339.1" width="4" height="10.1" fill="#000"/><rect x="1169.9" y="274.6" width="0.8" height="95.3" fill="#000"/><rect x="1168.7" y="280.8" width="3.2" height="66.0" fill="#fff" stroke="#000" stroke-width="0.9"/><rect x="1176.3" y="262.1" width="0.8" height="29.1" fill="#000"/><rect x="1175.1" y="267.0" width="3.2" height="13.4" fill="#fff" stroke="#000" stroke-width="0.9"/><rect x="1182.7" y="226.3" width="0.8" height="42.4" fill="#000"/><rect x="1181.5" y="237.7" width="3.2" height="28.5" fill="#fff" stroke="#000" stroke-width="0.9"/><rect x="1189.1" y="189.5" width="0.8" height="51.7" fill="#000"/><rect x="1187.9" y="206.9" width="3.2" height="30.4" fill="#fff" stroke="#000" stroke-width="0.9"/><rect x="1195.5" y="195.7" width="0.8" height="36.8" fill="#000"/><rect x="1194.3" y="200.7" width="3.2" height="9.2" fill="#fff" stroke="#000" stroke-width="0.9"/><rect x="1201.9" y="193.6" width="0.8" height="40.4" fill="#000"/><rect x="1200.3" y="200.9" width="4" height="11.9" fill="#000"/><rect x="1208.3" y="206.9" width="0.8" height="49.1" fill="#000"/><rect x="1206.7" y="213.2" width="4" height="25.1" fill="#000"/><rect x="1214.7" y="200.9" width="0.8" height="47.6" fill="#000"/><rect x="1213.5" y="212.1" width="3.2" height="28.7" fill="#fff" stroke="#000" stroke-width="0.9"/><rect x="1221.1" y="165.4" width="0.8" height="59.8" fill="#000"/><rect x="1219.9" y="177.4" width="3.2" height="36.0" fill="#fff" stroke="#000" stroke-width="0.9"/><rect x="1227.5" y="158.7" width="0.8" height="21.2" fill="#000"/><rect x="1225.9" y="174.9" width="4" height="5.0" fill="#000"/><rect x="1233.9" y="145.8" width="0.8" height="41.0" fill="#000"/><rect x="1232.7" y="172.6" width="3.2" height="9.6" fill="#fff" stroke="#000" stroke-width="0.9"/><rect x="1240.3" y="159.8" width="0.8" height="56.7" fill="#000"/><rect x="1238.7" y="171.8" width="4" height="41.4" fill="#000"/><rect x="1246.7" y="179.5" width="0.8" height="45.7" fill="#000"/><rect x="1245.1" y="212.3" width="4" height="9.8" fill="#000"/><rect x="1253.1" y="210.3" width="0.8" height="38.8" fill="#000"/><rect x="1251.5" y="220.7" width="4" height="24.3" fill="#000"/><rect x="1259.5" y="234.0" width="0.8" height="21.4" fill="#000"/><rect x="1257.9" y="244.6" width="4" height="4.5" fill="#000"/><rect x="1265.9" y="229.8" width="0.8" height="42.0" fill="#000"/><rect x="1264.3" y="248.5" width="4" height="21.3" fill="#000"/><rect x="1272.3" y="246.0" width="0.8" height="30.0" fill="#000"/><rect x="1271.1" y="259.8" width="3.2" height="11.6" fill="#fff" stroke="#000" stroke-width="0.9"/><rect x="1278.7" y="236.7" width="0.8" height="35.8" fill="#000"/><rect x="1277.1" y="258.2" width="4" height="10.5" fill="#000"/><rect x="1285.1" y="241.9" width="0.8" height="35.1" fill="#000"/><rect x="1283.9" y="246.4" width="3.2" height="20.9" fill="#fff" stroke="#000" stroke-width="0.9"/><rect x="1291.5" y="245.0" width="0.8" height="38.3" fill="#000"/><rect x="1289.9" y="248.5" width="4" height="28.5" fill="#000"/><rect x="1297.9" y="247.1" width="0.8" height="50.3" fill="#000"/><rect x="1296.7" y="264.5" width="3.2" height="11.7" fill="#fff" stroke="#000" stroke-width="0.9"/><rect x="1304.3" y="257.3" width="0.8" height="48.8" fill="#000"/><rect x="1302.7" y="268.3" width="4" height="27.9" fill="#000"/><rect x="1310.7" y="256.2" width="0.8" height="44.7" fill="#000"/><rect x="1309.5" y="263.9" width="3.2" height="31.0" fill="#fff" stroke="#000" stroke-width="0.9"/><rect x="1317.1" y="223.6" width="0.8" height="44.1" fill="#000"/><rect x="1315.9" y="240.6" width="3.2" height="21.9" fill="#fff" stroke="#000" stroke-width="0.9"/><rect x="1323.5" y="216.5" width="0.8" height="66.8" fill="#000"/><rect x="1321.9" y="239.8" width="4" height="41.8" fill="#000"/><rect x="1329.9" y="253.9" width="0.8" height="51.8" fill="#000"/><rect x="1328.3" y="280.8" width="4" height="2.0" fill="#000"/><rect x="1336.3" y="269.8" width="0.8" height="46.3" fill="#000"/><rect x="1334.7" y="282.8" width="4" height="27.1" fill="#000"/><rect x="1342.7" y="293.5" width="0.8" height="39.2" fill="#000"/><rect x="1341.5" y="300.4" width="3.2" height="9.4" fill="#fff" stroke="#000" stroke-width="0.9"/><rect x="1349.1" y="276.8" width="0.8" height="32.8" fill="#000"/><rect x="1347.9" y="295.7" width="3.2" height="8.2" fill="#fff" stroke="#000" stroke-width="0.9"/><rect x="1355.5" y="290.4" width="0.8" height="35.3" fill="#000"/><rect x="1353.9" y="295.0" width="4" height="19.5" fill="#000"/><rect x="1361.9" y="308.3" width="0.8" height="43.6" fill="#000"/><rect x="1360.3" y="316.2" width="4" height="17.7" fill="#000"/><rect x="1368.3" y="271.9" width="0.8" height="75.5" fill="#000"/><rect x="1367.1" y="277.5" width="3.2" height="56.4" fill="#fff" stroke="#000" stroke-width="0.9"/><rect x="1374.7" y="243.2" width="0.8" height="43.3" fill="#000"/><rect x="1373.5" y="257.8" width="3.2" height="18.9" fill="#fff" stroke="#000" stroke-width="0.9"/><rect x="1381.1" y="211.2" width="0.8" height="63.4" fill="#000"/><rect x="1379.9" y="235.9" width="3.2" height="24.2" fill="#fff" stroke="#000" stroke-width="0.9"/><rect x="1387.5" y="219.3" width="0.8" height="57.8" fill="#000"/><rect x="1385.9" y="234.9" width="4" height="30.8" fill="#000"/><rect x="1393.9" y="258.4" width="0.8" height="29.1" fill="#000"/><rect x="1392.3" y="265.7" width="4" height="21.8" fill="#000"/><rect x="1400.3" y="273.6" width="0.8" height="27.5" fill="#000"/><rect x="1398.7" y="290.2" width="4" height="8.6" fill="#000"/><rect x="1406.7" y="277.1" width="0.8" height="48.4" fill="#000"/><rect x="1405.1" y="300.6" width="4" height="18.1" fill="#000"/><rect x="1413.1" y="275.0" width="0.8" height="56.8" fill="#000"/><rect x="1411.5" y="317.8" width="4" height="1.5" fill="#000"/><rect x="1419.5" y="284.4" width="0.8" height="42.2" fill="#000"/><rect x="1418.3" y="313.9" width="3.2" height="6.5" fill="#fff" stroke="#000" stroke-width="0.9"/><rect x="1425.9" y="311.5" width="0.8" height="36.3" fill="#000"/><rect x="1424.3" y="314.1" width="4" height="14.1" fill="#000"/><rect x="1432.3" y="318.3" width="0.8" height="38.4" fill="#000"/><rect x="1430.7" y="328.7" width="4" height="4.5" fill="#000"/><rect x="1438.7" y="317.2" width="0.8" height="36.4" fill="#000"/><rect x="1437.5" y="323.4" width="3.2" height="12.1" fill="#fff" stroke="#000" stroke-width="0.9"/><rect x="1445.1" y="286.5" width="0.8" height="43.2" fill="#000"/><rect x="1443.9" y="299.4" width="3.2" height="23.7" fill="#fff" stroke="#000" stroke-width="0.9"/><rect x="1451.5" y="283.4" width="0.8" height="27.9" fill="#000"/><rect x="1450.3" y="289.0" width="3.2" height="9.9" fill="#fff" stroke="#000" stroke-width="0.9"/><rect x="1457.9" y="284.4" width="0.8" height="38.4" fill="#000"/><rect x="1456.3" y="291.7" width="4" height="27.6" fill="#000"/><rect x="1464.3" y="308.3" width="0.8" height="24.9" fill="#000"/><rect x="1462.7" y="318.5" width="4" height="0.9" fill="#000"/><rect x="1470.7" y="300.0" width="0.8" height="22.4" fill="#000"/><rect x="1469.1" y="318.9" width="4" height="1.9" fill="#000"/><rect x="1477.1" y="291.1" width="0.8" height="34.4" fill="#000"/><rect x="1475.9" y="305.4" width="3.2" height="14.1" fill="#fff" stroke="#000" stroke-width="0.9"/><rect x="1483.5" y="274.0" width="0.8" height="34.3" fill="#000"/><rect x="1482.3" y="283.8" width="3.2" height="21.0" fill="#fff" stroke="#000" stroke-width="0.9"/><rect x="1489.9" y="266.3" width="0.8" height="19.7" fill="#000"/><rect x="1488.7" y="274.4" width="3.2" height="11.1" fill="#fff" stroke="#000" stroke-width="0.9"/><rect x="1496.3" y="253.6" width="0.8" height="36.8" fill="#000"/><rect x="1494.7" y="273.0" width="4" height="12.9" fill="#000"/></g>
<rect x="0" y="0" width="1894.5" height="1.7" fill="#a0a0a0"/>
<polygon points="1507,1.7 1516.8,1.7 1511.9,6.3" fill="#b4b4b4"/>
<rect x="1507" y="1.0" width="9.8" height="1.0" fill="#787878"/>
<rect x="1893.05" y="1.2" width="1.1" height="576" fill="#282828"/>
<rect x="1894" y="13.9" width="1.9" height="0.9" fill="#202020"/>
<text x="1898.8" y="18.1" font-size="10.3" textLength="36.2" lengthAdjust="spacingAndGlyphs" fill="#1c1c1c">1.08780</text>
<rect x="1894" y="53.1" width="1.9" height="0.9" fill="#202020"/>
<text x="1898.8" y="57.3" font-size="10.3" textLength="36.2" lengthAdjust="spacingAndGlyphs" fill="#1c1c1c">1.06130</text>
<rect x="1894" y="92.3" width="1.9" height="0.9" fill="#202020"/>
<text x="1898.8" y="96.5" font-size="10.3" textLength="36.2" lengthAdjust="spacingAndGlyphs" fill="#1c1c1c">1.03480</text>
<rect x="1894" y="131.6" width="1.9" height="0.9" fill="#202020"/>
<text x="1898.8" y="135.8" font-size="10.3" textLength="36.2" lengthAdjust="spacingAndGlyphs" fill="#1c1c1c">1.00830</text>
<rect x="1894" y="170.9" width="1.9" height="0.9" fill="#202020"/>
<text x="1898.8" y="175.1" font-size="10.3" textLength="36.2" lengthAdjust="spacingAndGlyphs" fill="#1c1c1c">0.98180</text>
<rect x="1894" y="210.1" width="1.9" height="0.9" fill="#202020"/>
<text x="1898.8" y="214.3" font-size="10.3" textLength="36.2" lengthAdjust="spacingAndGlyphs" fill="#1c1c1c">0.95530</text>
<rect x="1894" y="249.4" width="1.9" height="0.9" fill="#202020"/>
<text x="1898.8" y="253.6" font-size="10.3" textLength="36.2" lengthAdjust="spacingAndGlyphs" fill="#1c1c1c">0.92880</text>
<rect x="1894" y="288.6" width="1.9" height="0.9" fill="#202020"/>
<text x="1898.8" y="292.8" font-size="10.3" textLength="36.2" lengthAdjust="spacingAndGlyphs" fill="#1c1c1c">0.90230</text>
<rect x="1894" y="327.9" width="1.9" height="0.9" fill="#202020"/>
<text x="1898.8" y="332.1" font-size="10.3" textLength="36.2" lengthAdjust="spacingAndGlyphs" fill="#1c1c1c">0.87580</text>
<rect x="1894" y="367.1" width="1.9" height="0.9" fill="#202020"/>
<text x="1898.8" y="371.3" font-size="10.3" textLength="36.2" lengthAdjust="spacingAndGlyphs" fill="#1c1c1c">0.84980</text>
<rect x="1894" y="406.4" width="1.9" height="0.9" fill="#202020"/>
<text x="1898.8" y="410.6" font-size="10.3" textLength="36.2" lengthAdjust="spacingAndGlyphs" fill="#1c1c1c">0.82330</text>
<rect x="1894" y="445.6" width="1.9" height="0.9" fill="#202020"/>
<text x="1898.8" y="449.8" font-size="10.3" textLength="36.2" lengthAdjust="spacingAndGlyphs" fill="#1c1c1c">0.79680</text>
<rect x="1894" y="484.9" width="1.9" height="0.9" fill="#202020"/>
<text x="1898.8" y="489.1" font-size="10.3" textLength="36.2" lengthAdjust="spacingAndGlyphs" fill="#1c1c1c">0.77030</text>
<rect x="1894" y="524.1" width="1.9" height="0.9" fill="#202020"/>
<text x="1898.8" y="528.3" font-size="10.3" textLength="36.2" lengthAdjust="spacingAndGlyphs" fill="#1c1c1c">0.74380</text>
<rect x="1894" y="563.3" width="1.9" height="0.9" fill="#202020"/>
<text x="1898.8" y="567.5" font-size="10.3" textLength="36.2" lengthAdjust="spacingAndGlyphs" fill="#1c1c1c">0.71730</text>
<rect x="1895" y="195.8" width="45" height="11.4" fill="#9400d3"/>
<text x="1898.8" y="205.2" font-size="10.3" textLength="36.2" lengthAdjust="spacingAndGlyphs" fill="#fff">0.96183</text>
<rect x="1895" y="229.4" width="45" height="11.4" fill="#9400d3"/>
<text x="1898.8" y="238.8" font-size="10.3" textLength="36.2" lengthAdjust="spacingAndGlyphs" fill="#fff">0.93918</text>
<rect x="1895" y="240.3" width="45" height="11.4" fill="#9400d3"/>
<text x="1898.8" y="249.7" font-size="10.3" textLength="36.2" lengthAdjust="spacingAndGlyphs" fill="#fff">0.93163</text>
<rect x="1895" y="268.5" width="45" height="11.4" fill="#9400d3"/>
<text x="1898.8" y="277.9" font-size="10.3" textLength="36.2" lengthAdjust="spacingAndGlyphs" fill="#fff">0.91275</text>
<rect x="1895" y="311.8" width="45" height="11.4" fill="#9400d3"/>
<text x="1898.8" y="321.2" font-size="10.3" textLength="36.2" lengthAdjust="spacingAndGlyphs" fill="#fff">0.88364</text>
<rect x="1895" y="331.5" width="45" height="11.4" fill="#9400d3"/>
<text x="1898.8" y="340.9" font-size="10.3" textLength="36.2" lengthAdjust="spacingAndGlyphs" fill="#fff">0.87015</text>
<rect x="1895" y="280.1" width="45" height="10.4" fill="#000"/>
<text x="1898.8" y="289.7" font-size="10.3" textLength="36.2" lengthAdjust="spacingAndGlyphs" fill="#fff">0.90456</text>
<rect x="1833" y="443.8" width="56.4" height="14.5" rx="1.5" fill="#000"/>
<text x="1842.3" y="455.8" font-size="11.7" textLength="36.6" lengthAdjust="spacingAndGlyphs" fill="#fff">BB ON</text>
<polygon points="0,7.3 1.9,7.3 0.7,9.1 0,9.1" fill="#000"/>
<text x="6.6" y="12.35" font-size="10.3" textLength="74.5" lengthAdjust="spacingAndGlyphs" fill="#1c1c1c">AUDCAD,Monthly</text>
<text x="88" y="12.35" font-size="10.3" textLength="36.2" lengthAdjust="spacingAndGlyphs" fill="#1c1c1c">0.91310</text>
<text x="128.4" y="12.35" font-size="10.3" textLength="36.2" lengthAdjust="spacingAndGlyphs" fill="#1c1c1c">0.92632</text>
<text x="168.4" y="12.35" font-size="10.3" textLength="36.2" lengthAdjust="spacingAndGlyphs" fill="#1c1c1c">0.90142</text>
<text x="208.3" y="12.35" font-size="10.3" textLength="36.2" lengthAdjust="spacingAndGlyphs" fill="#1c1c1c">0.90456</text>
</svg></body></html>
